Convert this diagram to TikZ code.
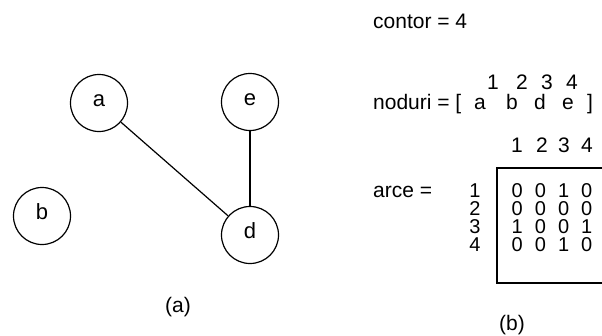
\documentclass[tikz,border=0pt]{standalone}
\usepackage{fontspec}
\setmainfont{Liberation Sans}
\begin{document}
\begin{tikzpicture}[x=1pt,y=-1pt,
  vertex/.style={circle,draw,line width=1.2pt,minimum size=57pt,inner sep=0pt,
    text height=13pt,text depth=6pt,font=\fontsize{22}{24}\selectfont},
  txt/.style={inner sep=0pt,font=\fontsize{21}{24}\selectfont,anchor=base},
  txtw/.style={txt,anchor=base west},
  mtx/.style={txt,font=\fontsize{20}{22}\selectfont},
  edge/.style={line width=1.2pt}]
\useasboundingbox (0,0) rectangle (602,335);
% graph (a)
\node[vertex] (a) at (99,103) {a};
\node[vertex] (e) at (250,102) {e};
\node[vertex] (b) at (42,216) {b};
\node[vertex] (d) at (250,235) {d};
\draw[edge] (a) -- (d);
\draw[edge] (e) -- (d);
\node[txt] (capa) at (178,312) {(a)};
% (b)
\node[txtw] (contor) at (373,28) {contor = 4};
\node[txt] (h1) at (493,89) {1};
\node[txt] (h2) at (522,89) {2};
\node[txt] (h3) at (547,89) {3};
\node[txt] (h4) at (572,89) {4};
\node[txtw] (noduri) at (373,109) {noduri = [};
\node[txt] (na) at (480,109) {a};
\node[txt] (nb) at (512,109) {b};
\node[txt] (nd) at (540,109) {d};
\node[txt] (ne) at (568,109) {e};
\node[txt] (nr) at (590,109) {]};
\node[txtw] (arce) at (373,197) {arce =};
\foreach \c/\x in {1/517,2/542,3/564,4/587}
  \node[txt] (c\c) at (\x,152) {\c};
\foreach \r/\y in {1/197,2/215,3/233,4/251}
  \node[mtx] (r\r) at (475,\y) {\r};
\foreach \r/\y/\vals in {1/197/{0,0,1,0},2/215/{0,0,0,0},3/233/{1,0,0,1},4/251/{0,0,1,0}}{
  \foreach \v [count=\k] in \vals {
    \pgfmathsetmacro{\xx}{494+\k*23.2}
    \node[mtx] (m\r\k) at (\xx,\y) {\v};
  }
}
\draw[line width=1.2pt] (603,168) -- (497,168) -- (497,283) -- (603,283);
\node[txt] (capb) at (512,330) {(b)};
\end{tikzpicture}
\end{document}
